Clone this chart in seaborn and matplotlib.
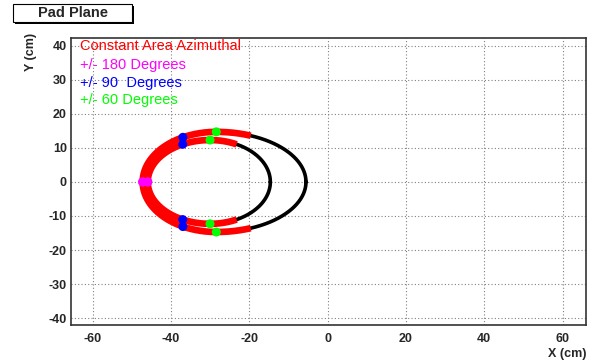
import numpy as np
import pandas as pd
import matplotlib
matplotlib.use("Agg")
import matplotlib.pyplot as plt
from matplotlib.patches import Rectangle
from matplotlib.ticker import MultipleLocator
import seaborn as sns

# Ring outlines on the pad plane (cm): centre x, left/right half-widths, half-height
ring_cx = [-28.4, -30.0]
ring_a_left = [18.8, 15.9]
ring_a_right = [22.9, 15.4]
ring_b = [14.7, 12.3]
# polar angle (deg) where the constant-area azimuthal (red) section ends on each ring
red_limit_deg = [67.4, 63.8]

# Azimuthal markers: polar angle (deg) on each ring, drawn at +angle and -angle
marker_colors = ["#ff00ff", "#0000ff", "#00ff00"]
marker_angles_outer = [180, 117, 90]
marker_angles_inner = [180, 116, 90]

legend_lines = ["Constant Area Azimuthal", "+/- 180 Degrees", "+/- 90  Degrees", "+/- 60 Degrees"]
legend_colors = ["#ff0000", "#ff00ff", "#0000ff", "#00ff00"]

x_ticks = [-60, -40, -20, 0, 20, 40, 60]
y_ticks = [-40, -30, -20, -10, 0, 10, 20, 30, 40]


def ring_xy(i, angles_deg):
    t = np.radians(np.asarray(angles_deg, dtype=float))
    c = np.cos(t)
    a = np.where(c < 0, ring_a_left[i], ring_a_right[i])
    return ring_cx[i] + a * c, ring_b[i] * np.sin(t)


sns.set_style("white")
plt.rcParams["font.family"] = ["Liberation Sans", "DejaVu Sans"]
plt.rcParams["axes.unicode_minus"] = False

W, H = 595, 363
fig = plt.figure(figsize=(W / 100, H / 100), dpi=100)
ax = fig.add_axes([71 / W, 1 - 325 / H, (586 - 71) / W, (325 - 37.5) / H])

# full rings in black, azimuthal sections in red
for i in range(len(ring_cx)):
    full = np.linspace(0, 360, 721)
    x, y = ring_xy(i, full)
    sns.lineplot(x=x, y=y, sort=False, estimator=None, color="black", lw=2.6, ax=ax)
    part = np.linspace(red_limit_deg[i], 360 - red_limit_deg[i], 400)
    x, y = ring_xy(i, part)
    sns.lineplot(x=x, y=y, sort=False, estimator=None, color="#ff0000", lw=4.8,
                 solid_capstyle="butt", ax=ax)

rows = []
for i, angles in enumerate([marker_angles_outer, marker_angles_inner]):
    for ang, col in zip(angles, marker_colors):
        for sgn in (1, -1):
            x, y = ring_xy(i, [sgn * ang])
            rows.append({"x": x[0], "y": y[0], "c": col})
markers = pd.DataFrame(rows)
sns.scatterplot(data=markers, x="x", y="y", hue="c", palette={c: c for c in marker_colors},
                s=42, linewidth=0, legend=False, zorder=3, ax=ax)

ax.set_xlim(-65.5, 66.0)
ax.set_ylim(-42.0, 42.4)
ax.set_xticks(x_ticks)
ax.set_xticklabels([str(v) for v in x_ticks], fontweight="bold", fontsize=9)
ax.set_yticks(y_ticks)
ax.set_yticklabels([str(v) for v in y_ticks], fontweight="bold", fontsize=9)
ax.xaxis.set_minor_locator(MultipleLocator(5))
ax.yaxis.set_minor_locator(MultipleLocator(2))
ax.tick_params(which="both", direction="in", top=False, right=False, color="black", width=1)
ax.tick_params(axis="y", which="major", length=6.5, pad=3)
ax.tick_params(axis="y", which="minor", length=3.6)
ax.tick_params(axis="x", which="major", length=5, pad=6)
ax.tick_params(axis="x", which="minor", length=2.5)
ax.grid(True, which="major", linestyle=(0, (1, 2)), color="#808080", lw=0.8)
for s in ax.spines.values():
    s.set_color("#333333")
    s.set_linewidth(1.2)
ax.set_xlabel("")
ax.set_ylabel("")

fig.text(31 / W, 1 - 33 / H, "Y (cm)", rotation=90, ha="center", va="top",
         fontweight="bold", fontsize=9)
fig.text(586 / W, 1 - 354 / H, "X (cm)", ha="right", va="center",
         fontweight="bold", fontsize=9)

# legend text block inside the frame
legend_y = [46, 64.5, 82.5, 100]
for txt, col, yp in zip(legend_lines, legend_colors, legend_y):
    fig.text(80 / W, 1 - yp / H, txt, color=col, fontsize=10.5, ha="left", va="center")

# title box with drop shadow
fig.patches.append(Rectangle((15 / W, 1 - 24 / H), 119 / W, 18 / H, transform=fig.transFigure,
                             facecolor="black", edgecolor="none"))
fig.patches.append(Rectangle((13 / W, 1 - 22 / H), 119 / W, 18 / H, transform=fig.transFigure,
                             facecolor="white", edgecolor="black", lw=0.8))
fig.text(72.5 / W, 1 - 13 / H, "Pad Plane", ha="center", va="center",
         fontweight="bold", fontsize=10.5)

fig.savefig("out.png", dpi=100)
